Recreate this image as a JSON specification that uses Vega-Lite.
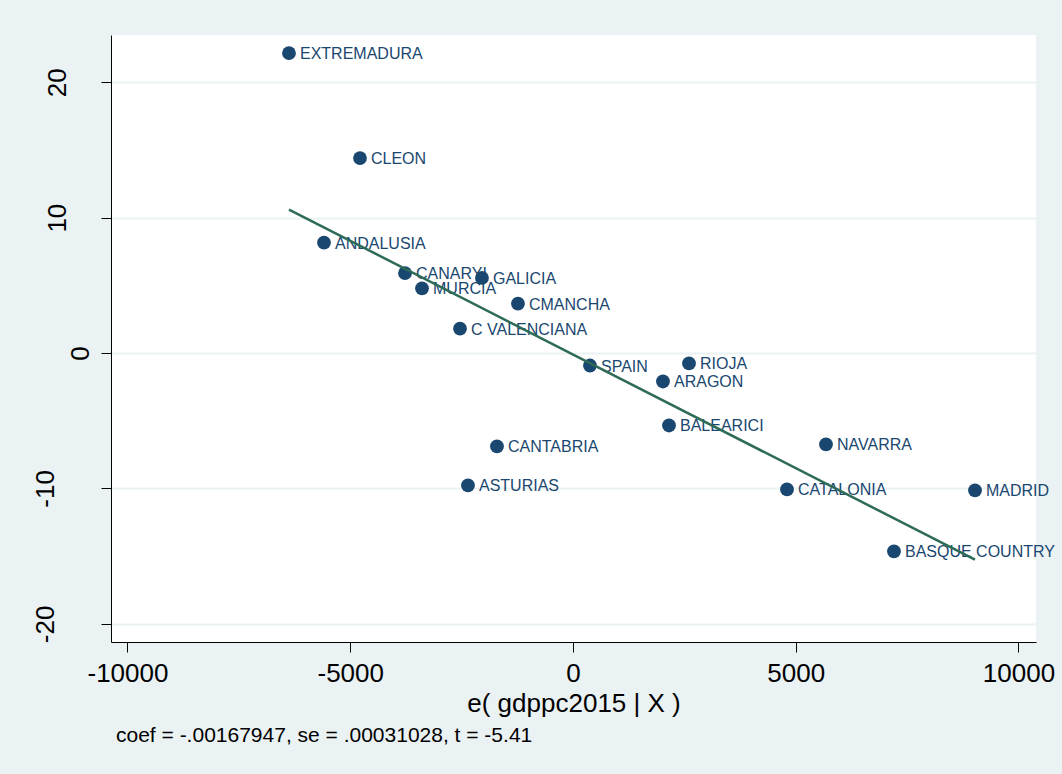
{
  "$schema": "https://vega.github.io/schema/vega-lite/v6.json",
  "width": 925,
  "height": 607,
  "autosize": {"type": "none"},
  "padding": {"left": 111, "top": 35, "right": 26, "bottom": 132},
  "background": "#EAF2F3",
  "config": {
    "view": {"stroke": null, "fill": "white"},
    "font": "Liberation Sans"
  },
  "title": {
    "text": "coef = -.00167947, se = .00031028, t = -5.41",
    "orient": "bottom",
    "anchor": "start",
    "frame": "group",
    "fontSize": 21,
    "fontWeight": "normal",
    "color": "black",
    "offset": 9,
    "dx": 5
  },
  "datasets": {
    "points": [
      {"region": "EXTREMADURA", "x": -6375, "y": 22.15},
      {"region": "CLEON", "x": -4781, "y": 14.4},
      {"region": "ANDALUSIA", "x": -5589, "y": 8.15},
      {"region": "CANARYI", "x": -3771, "y": 5.9},
      {"region": "GALICIA", "x": -2043, "y": 5.55},
      {"region": "MURCIA", "x": -3389, "y": 4.78},
      {"region": "CMANCHA", "x": -1235, "y": 3.65},
      {"region": "C VALENCIANA", "x": -2536, "y": 1.8},
      {"region": "SPAIN", "x": 382, "y": -0.92},
      {"region": "RIOJA", "x": 2604, "y": -0.77},
      {"region": "ARAGON", "x": 2020, "y": -2.1},
      {"region": "BALEARICI", "x": 2155, "y": -5.35},
      {"region": "CANTABRIA", "x": -1706, "y": -6.9},
      {"region": "NAVARRA", "x": 5679, "y": -6.75},
      {"region": "ASTURIAS", "x": -2357, "y": -9.78},
      {"region": "CATALONIA", "x": 4804, "y": -10.07},
      {"region": "MADRID", "x": 9024, "y": -10.14},
      {"region": "BASQUE COUNTRY", "x": 7205, "y": -14.65}
    ],
    "fit": [
      {"x": -6375, "y": 10.6},
      {"x": 9024, "y": -15.26}
    ]
  },
  "encoding": {
    "x": {
      "field": "x",
      "type": "quantitative",
      "scale": {"domain": [-10370, 10393], "nice": false, "zero": false},
      "axis": {
        "title": "e( gdppc2015 | X )",
        "values": [-10000, -5000, 0, 5000, 10000],
        "labelExpr": "datum.value < 0 ? '-' + abs(datum.value) : '' + datum.value",
        "grid": false,
        "domainColor": "black",
        "domainWidth": 1,
        "tickColor": "black",
        "tickSize": 10,
        "labelFontSize": 26,
        "labelColor": "black",
        "labelPadding": 8,
        "labelBaseline": "top",
        "titleFontSize": 26,
        "titleFontWeight": "normal",
        "titleColor": "black",
        "titlePadding": 4
      }
    },
    "y": {
      "field": "y",
      "type": "quantitative",
      "scale": {"domain": [-21.34, 23.49], "nice": false, "zero": false},
      "axis": {
        "title": null,
        "values": [-20, -10, 0, 10, 20],
        "labelExpr": "datum.value < 0 ? '-' + abs(datum.value) : '' + datum.value",
        "grid": true,
        "gridColor": "#EAF2F3",
        "gridWidth": 2,
        "domainColor": "black",
        "domainWidth": 1,
        "tickColor": "black",
        "tickSize": 10,
        "labelFontSize": 26,
        "labelColor": "black",
        "labelAngle": -90,
        "labelAlign": "center",
        "labelBaseline": "middle",
        "labelPadding": {
          "condition": [
            {"test": "datum.value == 0", "value": 21},
            {"test": "datum.value > 0", "value": 44}
          ],
          "value": 56
        }
      }
    }
  },
  "layer": [
    {
      "data": {"name": "points"},
      "mark": {"type": "text", "align": "left", "baseline": "middle", "dx": 11, "dy": 1, "fontSize": 16, "color": "#1A476F"},
      "encoding": {"text": {"field": "region"}}
    },
    {
      "data": {"name": "points"},
      "mark": {"type": "point", "shape": "circle", "filled": true, "size": 190, "opacity": 1, "color": "#1A476F"}
    },
    {
      "data": {"name": "fit"},
      "mark": {"type": "line", "color": "#2E6B57", "strokeWidth": 2.5}
    }
  ]
}
